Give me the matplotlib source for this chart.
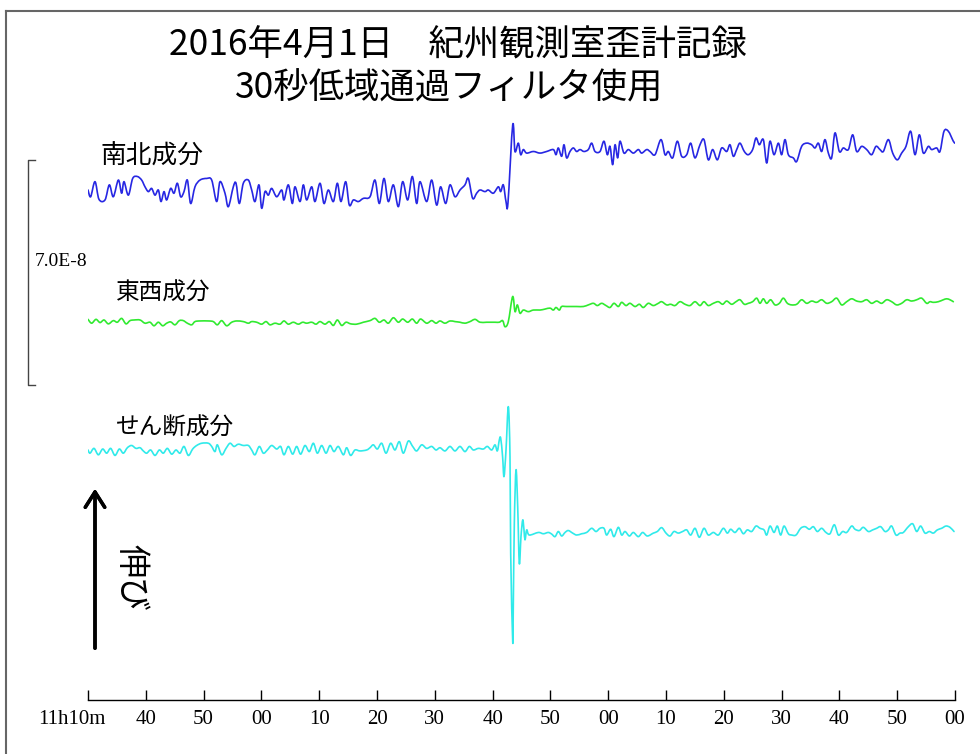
import matplotlib
matplotlib.use("Agg")
import matplotlib.pyplot as plt
from matplotlib.lines import Line2D
from matplotlib.path import Path
from matplotlib.patches import PathPatch
from matplotlib.transforms import ScaledTranslation

plt.rcParams['font.family'] = ['Noto Sans CJK JP', 'DejaVu Sans']

# strain records, time in s from the first tick, strain in 1e-9 (picked off the chart)
ns_t = [0.0, 0.46, 1.21, 1.90, 2.94, 3.69, 4.38, 5.25, 5.82, 6.23, 6.98, 7.73, 8.54, 9.28, 9.86,
        10.44, 11.01, 11.59, 12.17, 12.63, 13.15, 13.61, 14.30, 14.88, 15.46, 16.03, 16.61, 17.19,
        17.76, 18.51, 19.38, 20.53, 21.40, 22.26, 22.84, 23.70, 24.28, 25.14, 25.61, 26.18, 26.87,
        27.74, 28.32, 28.89, 29.58, 30.05, 30.62, 31.20, 31.78, 32.64, 33.51, 33.91, 34.66, 35.35,
        35.81, 36.68, 37.26, 37.83, 38.70, 39.27, 40.14, 40.83, 41.58, 42.45, 43.14, 43.77, 44.58,
        45.21, 45.91, 46.77, 47.64, 48.79, 49.65, 50.40, 51.21, 51.96, 52.83, 53.69, 54.44, 55.31,
        56.11, 56.86, 57.44, 58.59, 59.46, 60.32, 61.01, 61.88, 62.63, 63.49, 64.36, 65.22, 65.80,
        66.55, 67.24, 67.82, 68.68, 69.26, 70.13, 70.99, 71.40, 71.86, 72.32, 72.66, 73.48, 73.87,
        74.45, 74.86, 75.32, 75.89, 77.05, 78.20, 79.35, 80.51, 80.97, 81.37, 81.95, 82.35, 82.81,
        83.39, 83.97, 84.54, 85.12, 85.81, 86.56, 87.14, 87.72, 88.58, 89.27, 89.85, 90.31, 90.77,
        91.18, 91.64, 92.04, 92.73, 93.48, 94.35, 95.21, 95.79, 96.66, 97.23, 98.10, 99.13, 99.83,
        100.40, 101.15, 101.96, 102.71, 103.58, 104.27, 105.02, 105.88, 106.57, 107.32, 108.07,
        108.88, 109.63, 110.50, 111.07, 111.65, 112.23, 112.80, 113.55, 114.24, 114.99, 115.57,
        116.15, 116.84, 117.42, 117.99, 118.69, 119.44, 120.01, 120.59, 121.17, 122.03, 122.61,
        123.47, 124.34, 125.20, 125.78, 126.36, 126.93, 127.51, 128.09, 128.66, 129.24, 129.99,
        130.68, 131.55, 132.30, 132.99, 133.85, 134.72, 135.58, 136.33, 137.02, 137.60, 138.47,
        139.22, 140.02, 140.77, 141.52, 142.33, 143.08, 143.83, 144.52, 145.39, 145.96, 146.83,
        147.40, 148.10, 148.85, 149.71, 150.0]
ns_v = [0.0, -2.1, 2.6, -2.9, -3.1, 1.6, -2.1, 3.1, -1.0, 2.6, -1.6, 3.6, 4.2, 3.1, 1.0,
        -0.5, 0.5, -1.6, 0.0, -3.6, -0.5, -3.1, 0.5, -1.0, 2.1, -2.1, -0.5, 3.1,
        -4.2, 1.0, 3.1, 3.6, 3.1, -3.6, 2.6, -1.0, -5.2, 1.0, 2.1, -4.2, 2.1,
        3.1, 0.0, -3.6, 1.6, -5.7, -0.5, -1.6, 0.5, -2.1, 0.0, -3.1, 1.6, -4.2,
        1.0, -3.6, 1.6, -3.1, 1.0, -3.6, 2.1, -4.2, 0.0, -3.6, 2.1, -3.6, 2.6,
        -4.7, -3.1, -3.6, -2.6, -2.1, 3.1, -4.2, 3.6, -3.6, 1.6, -5.2, 2.6, -3.1,
        4.2, -4.2, 2.6, -3.6, 3.1, -4.7, 1.0, -4.2, 1.6, -2.1, 0.0, 1.6, 3.6,
        -2.6, -1.0, 0.0, -0.5, 0.0, -1.0, 1.0, -0.5, 1.6, -3.6, -4.0, 20.3, 12.0,
        14.6, 11.0, 12.6, 11.5, 12.0, 11.5, 12.0, 12.6, 11.0, 13.1, 10.5, 14.1, 10.0,
        12.0, 13.1, 12.0, 12.6, 12.0, 12.6, 14.6, 12.0, 12.0, 15.2, 11.0, 13.6, 7.9,
        14.1, 10.0, 15.2, 11.5, 12.6, 11.5, 12.6, 11.5, 12.6, 12.0, 11.0, 15.7, 11.0,
        12.0, 10.0, 15.2, 10.5, 11.0, 14.6, 10.0, 14.1, 15.7, 9.4, 12.6,
        9.4, 13.1, 12.0, 14.1, 10.5, 12.6, 14.6, 12.0, 11.0, 12.6, 16.2,
        14.1, 15.7, 8.4, 15.2, 11.0, 14.6, 11.0, 15.7, 11.0, 10.0, 8.9,
        13.6, 14.6, 14.1, 13.1, 14.6, 12.0, 15.7, 11.5, 10.0, 17.8, 12.0,
        13.1, 12.6, 17.2, 12.0, 13.6, 12.6, 11.0, 13.6, 12.6, 12.0, 15.7,
        11.5, 9.4, 11.5, 13.6, 18.3, 11.0, 17.2, 11.5, 13.6, 12.6, 13.1,
        12.0, 18.3, 18.3, 15.2, 14.6]

ew_t = [0.0, 0.63, 1.38, 2.08, 2.77, 3.52, 4.38, 5.07, 5.82, 6.57, 7.27, 7.96, 9.00, 9.86, 10.73,
        11.42, 12.17, 12.92, 13.61, 14.30, 15.05, 15.80, 16.49, 17.19, 17.94, 18.51, 19.38, 20.82,
        21.68, 22.38, 23.13, 23.99, 24.86, 25.72, 26.87, 27.74, 28.32, 29.18, 30.05, 30.80, 31.49,
        32.35, 33.22, 33.91, 34.66, 35.52, 36.39, 37.14, 37.83, 38.70, 39.45, 40.14, 41.00, 41.75,
        42.45, 43.14, 43.89, 44.64, 45.44, 46.48, 47.64, 48.79, 49.65, 50.40, 51.21, 51.96, 52.83,
        53.69, 54.44, 55.31, 56.11, 56.86, 57.55, 58.59, 59.46, 60.21, 60.90, 61.76, 62.63, 63.49,
        64.36, 65.22, 66.09, 66.96, 67.82, 68.97, 70.42, 71.16, 71.74, 72.15, 72.72, 73.47, 73.88,
        74.28, 74.74, 75.32, 76.18, 77.05, 78.20, 79.07, 79.93, 80.51, 80.97, 81.55, 81.95, 82.81,
        84.54, 85.70, 86.56, 87.43, 88.12, 88.87, 89.62, 90.31, 91.00, 91.75, 92.33, 93.08, 93.77,
        94.64, 95.39, 96.08, 96.94, 97.81, 98.67, 99.25, 100.12, 100.81, 101.56, 102.42, 103.29,
        104.15, 105.02, 105.88, 106.57, 107.32, 108.19, 109.05, 109.80, 110.50, 111.36, 112.11,
        112.80, 113.55, 114.24, 114.99, 115.69, 116.26, 116.84, 117.42, 118.11, 118.86, 119.61,
        120.30, 121.00, 121.74, 122.61, 123.47, 124.34, 125.20, 126.07, 126.93, 127.80, 128.66,
        129.53, 130.39, 131.26, 132.12, 132.99, 133.85, 134.72, 135.58, 136.45, 137.31, 138.18,
        139.04, 139.91, 140.77, 141.64, 142.50, 143.37, 144.23, 145.10, 145.67, 146.25, 147.12,
        147.98, 148.56, 149.13, 149.71]
ew_v = [0.8, -0.4, 0.8, -0.2, 0.6, -0.6, 0.4, -0.1, 1.1, -0.6, 0.4, 0.6, 0.6, -0.4, -0.1,
        -1.2, -0.1, -1.2, -0.4, 0.0, -0.9, 0.4, 0.4, -0.4, -0.9, 0.1, 0.3, 0.3,
        0.1, -0.9, 0.4, -1.2, -0.1, 0.3, 0.1, -0.4, 0.1, -0.1, -0.7, 0.1, -0.9,
        -0.4, -0.7, 0.3, -0.7, -0.1, -0.7, -0.1, -0.4, -0.1, -0.7, 0.1, -0.7, 0.1,
        -1.1, 0.6, -1.1, -0.1, -0.6, -0.7, -0.1, 0.4, 1.1, -0.1, 0.6, -0.4, 1.3,
        -0.1, 0.9, -0.1, 0.9, -0.4, 0.9, -0.4, 0.4, -0.4, 0.3, -0.4, 0.3, 0.1,
        -0.1, -0.4, 0.1, 0.8, -0.1, -0.1, -0.1, -0.1, 0.4, -1.5, 0.1, 7.9, 3.2,
        5.3, 2.7, 3.7, 3.2, 3.7, 3.7, 4.0, 4.3, 3.7, 4.5, 3.7, 4.8, 4.8,
        4.8, 4.8, 5.3, 5.8, 5.1, 5.8, 5.1, 4.5, 5.8, 4.8, 6.1, 5.1, 5.8,
        4.8, 5.5, 4.5, 5.8, 5.1, 5.8, 6.3, 5.3, 5.5, 5.1, 6.3, 5.5,
        5.1, 6.3, 5.1, 6.3, 5.1, 5.8, 6.3, 5.5, 6.5, 5.5, 6.3,
        6.9, 5.5, 5.8, 6.3, 7.4, 5.8, 7.2, 5.8, 6.9, 5.3, 5.8,
        7.4, 5.8, 5.3, 5.5, 6.9, 5.8, 6.5, 6.1, 6.9, 5.8, 6.3,
        7.4, 5.3, 6.3, 7.2, 6.5, 6.3, 6.9, 5.8, 6.5, 5.8, 6.9,
        6.3, 5.3, 5.8, 6.9, 6.5, 6.9, 7.4, 5.8, 6.3, 6.1, 6.3,
        6.9, 7.2, 6.9, 6.3]

sh_t = [0.0, 0.35, 1.04, 1.79, 2.54, 3.23, 3.92, 4.67, 5.42, 6.11, 6.81, 7.55, 8.30, 9.00, 9.57,
        10.15, 10.84, 11.59, 12.34, 13.03, 13.73, 14.48, 15.22, 15.92, 16.61, 17.36, 18.11, 18.80,
        19.67, 20.82, 21.40, 21.97, 22.38, 23.13, 23.88, 24.57, 25.26, 26.01, 26.87, 27.74, 28.32,
        28.89, 29.64, 30.33, 31.03, 31.78, 32.64, 33.33, 33.91, 34.66, 35.41, 36.10, 36.79, 37.54,
        38.29, 38.99, 39.68, 40.43, 41.18, 41.87, 42.56, 43.31, 44.18, 44.75, 45.44, 46.19, 47.06,
        48.21, 48.79, 49.37, 50.06, 50.81, 51.56, 52.36, 53.11, 53.86, 54.56, 55.42, 56.17, 56.86,
        57.73, 58.59, 59.46, 60.21, 60.90, 61.76, 62.63, 63.49, 64.36, 65.22, 65.97, 66.67, 67.53,
        68.40, 69.09, 69.84, 70.42, 70.82, 71.16, 71.40, 71.73, 71.97, 72.32, 72.72, 73.01, 73.13,
        73.48, 73.58, 73.76, 74.05, 74.34, 74.62, 74.91, 75.21, 75.43, 75.61, 75.90, 76.34, 77.91,
        78.78, 79.64, 80.22, 80.80, 81.37, 81.95, 82.53, 83.10, 83.85, 84.54, 85.41, 86.27, 87.14,
        87.89, 88.58, 89.27, 89.73, 90.43, 91.00, 91.75, 92.33, 92.91, 93.66, 94.35, 95.21, 95.96,
        96.77, 97.81, 98.50, 99.25, 100.00, 100.69, 101.38, 102.13, 102.88, 103.58, 104.27, 105.02,
        105.77, 106.57, 107.32, 108.19, 109.05, 109.92, 110.61, 111.19, 111.94, 112.69, 113.38,
        114.07, 114.82, 115.57, 116.26, 116.96, 117.42, 118.00, 118.69, 119.26, 119.84, 120.42,
        121.17, 121.74, 122.49, 123.30, 124.05, 124.80, 125.49, 126.18, 126.93, 127.68, 128.37,
        129.12, 129.82, 130.57, 131.26, 132.12, 132.70, 133.45, 134.14, 135.01, 135.76, 136.45,
        137.14, 137.89, 138.47, 139.04, 139.79, 140.48, 141.06, 141.93, 142.68, 143.37, 144.06,
        144.81, 145.56, 146.25, 146.94, 147.69, 148.44, 149.13, 149.83]
sh_v = [0.6, -0.4, 1.1, -0.9, 0.9, -0.4, 1.1, -1.1, 0.9, -0.4, 1.3, 2.0, 1.1, 1.3, 0.3,
        -0.4, 0.6, -1.1, 0.6, -0.4, 1.1, -0.7, 0.6, -0.4, 1.7, -1.1, 0.9, 2.0,
        2.7, 2.7, 1.7, 0.1, 2.2, -0.9, 1.1, 2.7, 1.7, 2.4, 2.0, 2.0, 0.6,
        -0.9, 1.7, -0.4, 0.6, 2.0, 0.9, 1.7, -0.9, 1.7, -0.7, 1.7, -0.7, 2.0,
        0.1, 2.7, -0.4, 2.0, -0.4, 2.0, 0.1, 1.7, -0.9, 1.3, -1.1, 0.6, 0.3,
        0.6, 1.3, 2.2, 0.9, 2.7, -0.4, 2.7, 0.6, 3.2, -0.4, 3.4, 1.7, 0.3,
        2.2, 1.1, 1.7, 0.6, 1.3, 0.3, 1.7, 0.3, 1.7, 0.1, 1.7, 0.6, 1.1,
        0.9, 1.7, 0.6, 2.2, 0.3, 3.7, 4.3, -1.5, -7.7, 0.6, 14.1, -1.5, -31.6,
        -59.1, -48.2, -22.2, -5.6, -17.0, -34.7, -26.4, -21.2, -24.3, -27.4, -24.3, -25.9, -25.1,
        -25.5, -25.1, -25.6, -26.4, -24.8, -26.2, -25.1, -24.5, -25.3, -25.9, -25.5, -25.1, -23.8,
        -24.8, -23.8, -23.8, -25.9, -24.1, -26.4, -23.5, -25.9, -24.8, -26.2, -25.1, -26.4, -25.1,
        -26.2, -25.3, -24.8, -23.6, -25.3, -26.2, -24.8, -25.3, -24.8, -24.3, -25.9, -23.8,
        -26.6, -23.8, -25.9, -25.1, -25.9, -23.8, -25.3, -24.1, -25.1, -23.8, -25.5,
        -24.3, -24.8, -23.1, -23.8, -24.3, -25.9, -23.1, -25.1, -23.1, -25.9, -23.1,
        -25.5, -25.9, -25.9, -23.8, -23.3, -24.1, -23.3, -24.8, -23.8, -25.1, -25.5,
        -22.7, -25.9, -24.8, -25.1, -23.1, -24.1, -24.5, -23.5, -24.8, -24.3, -23.8,
        -23.3, -24.8, -24.3, -23.1, -25.9, -25.3, -25.1, -23.3, -22.4, -24.8, -23.1,
        -25.3, -24.8, -25.3, -24.3, -23.8, -23.1, -23.5, -24.8]

tick_sec = [0, 10, 20, 30, 40, 50, 60, 70, 80, 90, 100, 110, 120, 130, 140, 150]
tick_lab = ["11h10m", "40", "50", "00", "10", "20", "30", "40", "50", "00",
            "10", "20", "30", "40", "50", "00"]
scale_val = 70.0   # 7.0E-8
scale_lab = "7.0E-8"

W, H = 980, 754
fig = plt.figure(figsize=(W / 100, H / 100), dpi=100)

def fx(px):
    return px / W

def fy(py):
    return 1 - py / H

def smooth_trace(ax, t, v, off, color):
    """Draw the trace as a Catmull-Rom bezier path through the read points"""
    pts = [(t[i], v[i] + off) for i in range(len(t))]
    verts, codes = [pts[0]], [Path.MOVETO]
    n = len(pts)
    for i in range(n - 1):
        p0 = pts[i - 1] if i > 0 else pts[i]
        p1, p2 = pts[i], pts[i + 1]
        p3 = pts[i + 2] if i + 2 < n else pts[i + 1]
        c1 = (p1[0] + (p2[0] - p0[0]) / 6, p1[1] + (p2[1] - p0[1]) / 6)
        c2 = (p2[0] - (p3[0] - p1[0]) / 6, p2[1] - (p3[1] - p1[1]) / 6)
        verts += [c1, c2, p2]
        codes += [Path.CURVE4] * 3
    ax.add_patch(PathPatch(Path(verts, codes), fill=False, edgecolor=color,
                           lw=1.2, joinstyle='round', capstyle='round'))

ax = fig.add_axes([fx(88), 54 / H, 867 / W, 700 / H])
ax.set_xlim(0, 150)
ax.set_ylim(-158.9, 59.2)
for s in ['top', 'left', 'right']:
    ax.spines[s].set_visible(False)
ax.spines['bottom'].set_linewidth(1.0)
ax.set_yticks([])

# traces, stacked
smooth_trace(ax, ns_t, ns_v, 0.0, '#2727e3')
smooth_trace(ax, ew_t, ew_v, -41.1, '#30ea30')
smooth_trace(ax, sh_t, sh_v, -81.6, '#30eaea')

ax.set_xticks(tick_sec)
ax.set_xticklabels(tick_lab, family='Liberation Serif', fontsize=15)
ax.tick_params(axis='x', direction='in', length=7, width=1, pad=7)
lab0 = ax.get_xticklabels()[0]
lab0.set_transform(lab0.get_transform() + ScaledTranslation(-16 / 100, 0, fig.dpi_scale_trans))

# scale bar for 7.0E-8
top = 9.3
ax.plot([-9.2, -10.4, -10.4, -9.2], [top, top, top - scale_val, top - scale_val],
        color='#444444', lw=1.0, clip_on=False)
fig.text(fx(35), fy(262), scale_lab, family='Liberation Serif', fontsize=14,
         ha='left', va='center')

# labels
fig.text(fx(458), fy(45), "2016年4月1日\u3000紀州観測室歪計記録", fontsize=25.5,
         ha='center', va='center')
fig.text(fx(449), fy(88), "30秒低域通過フィルタ使用", fontsize=25.5,
         ha='center', va='center')
fig.text(fx(100), fy(157), "南北成分", fontsize=18.5, ha='left', va='center')
fig.text(fx(116), fy(293), "東西成分", fontsize=17, ha='left', va='center')
fig.text(fx(116), fy(428), "せん断成分", fontsize=17, ha='left', va='center')

# extension arrow
fig.add_artist(plt.annotate('', xy=(fx(95), fy(486)), xytext=(fx(95), fy(651)),
                            xycoords='figure fraction', textcoords='figure fraction',
                            arrowprops=dict(arrowstyle='->,head_length=0.55,head_width=0.35',
                                            mutation_scale=20, lw=2.5, color='black')))
fig.text(fx(131), fy(577), "伸び", fontsize=24, rotation=-90, ha='center', va='center')

# frame
fig.add_artist(Line2D([fx(6), fx(6)], [fy(11), 0], color='#666666', lw=1.5))
fig.add_artist(Line2D([fx(6), 1], [fy(11), fy(11)], color='#666666', lw=1.5))

fig.savefig("out.png", dpi=100)
